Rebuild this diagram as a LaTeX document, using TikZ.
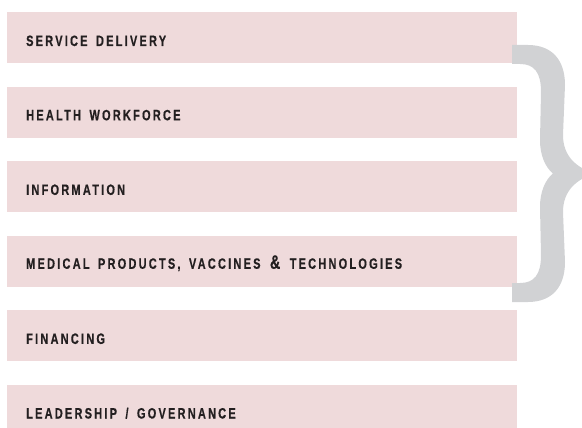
\documentclass[tikz,border=0pt]{standalone}
\usepackage{fontspec}
\setmainfont{Liberation Sans}[FakeStretch=0.73,LetterSpace=15,WordSpace=1.6,BoldFeatures={FakeBold=0.5}]
\definecolor{boxpink}{HTML}{EFDADB}
\definecolor{bracegrey}{HTML}{D1D2D4}
\definecolor{labeltext}{HTML}{231F20}
\begin{document}
\begin{tikzpicture}[x=1pt,y=-1pt,
  pinkbox/.style={fill=boxpink, draw=none, anchor=north west, minimum width=509.7pt, minimum height=51pt, inner sep=0pt, outer sep=0pt},
  boxlabel/.style={anchor=base west, inner sep=0pt, text=labeltext, font=\fontsize{15}{15}\selectfont\bfseries}]
\useasboundingbox (0,0) rectangle (582,428);
\clip (0,0) rectangle (582,428);
\node[pinkbox] (b1) at (7,12) {};
\node[pinkbox] (b2) at (7,86.6) {};
\node[pinkbox] (b3) at (7,161.2) {};
\node[pinkbox] (b4) at (7,235.8) {};
\node[pinkbox] (b5) at (7,310.4) {};
\node[pinkbox] (b6) at (7,385) {};
\node[boxlabel] (t1) at (26,46) {SERVICE DELIVERY};
\node[boxlabel] (t2) at (26,120.3) {HEALTH WORKFORCE};
\node[boxlabel] (t3) at (26,194.9) {INFORMATION};
\node[boxlabel] (t4) at (26,268.8) {MEDICAL PRODUCTS, VACCINES\hspace{1pt} {\fontsize{19.5}{19.5}\selectfont\&}\hspace{1pt} TECHNOLOGIES};
\node[boxlabel] (t5) at (26,343.9) {FINANCING};
\node[boxlabel] (t6) at (26,418.5) {LEADERSHIP / GOVERNANCE};
\fill[bracegrey] (512,45) -- (528,45) .. controls (552,45) and (565,60) .. (565,85)
  -- (563,135) .. controls (563,155) and (575,168) .. (596,173.5)
  .. controls (575,179) and (563,192) .. (563,212)
  -- (565,262) .. controls (565,287) and (552,302) .. (528,302)
  -- (512,302) -- (512,283) -- (520,283)
  .. controls (534,283) and (541,275) .. (541,255)
  -- (540,207) .. controls (540,192) and (545,180) .. (553,173.5)
  .. controls (545,167) and (540,155) .. (540,140)
  -- (541,92) .. controls (541,72) and (534,64) .. (520,64)
  -- (512,64) -- cycle;
\end{tikzpicture}
\end{document}
